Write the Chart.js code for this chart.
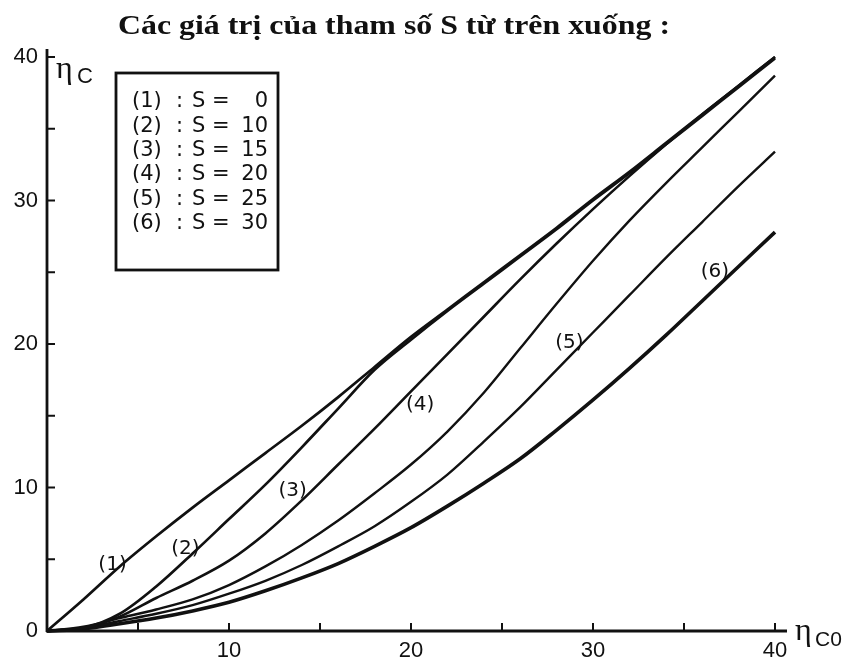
<!DOCTYPE html>
<html>
<head>
<meta charset="utf-8">
<title>eta_C theo eta_C0</title>
<script src="https://cdn.jsdelivr.net/npm/chart.js@4.4.0/dist/chart.umd.min.js"></script>
<style>
  html, body { margin: 0; padding: 0; background: #fff; }
  #wrap { width: 847px; height: 667px; }
</style>
</head>
<body>
<div id="wrap"><canvas id="chart" width="847" height="667"></canvas></div>
<script>
// Values (eta_C against eta_C0, one curve per S)
const etaC0 = [0, 2, 4, 6, 8, 10, 12, 14, 16, 18, 20, 22, 24, 26, 28, 30, 32, 34, 36, 38, 40];
const curveS0  = [0, 2.2, 4.5, 6.6, 8.6, 10.5, 12.4, 14.3, 16.3, 18.4, 20.5, 22.4, 24.3, 26.2, 28.1, 30.1, 32.0, 34.0, 36.0, 38.0, 40.0];
const curveS10 = [0, 0.2, 1.2, 3.1, 5.4, 7.8, 10.2, 12.8, 15.5, 18.2, 20.3, 22.3, 24.2, 26.1, 28.0, 30.0, 31.9, 33.9, 35.9, 37.9, 39.9];
const curveS15 = [0, 0.2, 1.0, 2.3, 3.5, 4.9, 6.8, 9.1, 11.6, 14.1, 16.7, 19.3, 21.9, 24.5, 27.0, 29.4, 31.7, 33.9, 36.0, 38.0, 40.0];
const curveS20 = [0, 0.3, 0.9, 1.5, 2.2, 3.2, 4.5, 6.0, 7.7, 9.6, 11.6, 13.9, 16.6, 19.7, 22.8, 25.8, 28.6, 31.2, 33.7, 36.2, 38.7];
const curveS25 = [0, 0.2, 0.7, 1.2, 1.8, 2.6, 3.5, 4.6, 5.9, 7.3, 9.0, 10.9, 13.2, 15.6, 18.2, 20.8, 23.4, 26.0, 28.5, 31.0, 33.4];
const curveS30 = [0, 0.15, 0.5, 0.9, 1.4, 2.0, 2.8, 3.7, 4.7, 5.9, 7.2, 8.7, 10.3, 12.0, 14.0, 16.1, 18.3, 20.6, 23.0, 25.4, 27.8];

const sValues = [0, 10, 15, 20, 25, 30];
const curveTags = ['(1)', '(2)', '(3)', '(4)', '(5)', '(6)'];
// where each "(n)" tag sits, in data units
const tagAt = [[3.6, 4.6], [7.6, 5.75], [13.5, 9.8], [20.5, 15.75], [28.7, 20.1], [36.7, 25.0]];
const xTickLabels = [10, 20, 30, 40];
const yTickLabels = [0, 10, 20, 30, 40];

const title = 'Các giá trị của tham số S từ trên xuống :';
const ink = '#111';

const series = [curveS0, curveS10, curveS15, curveS20, curveS25, curveS30];
const widths = [2.7, 2.7, 2.6, 2.4, 2.4, 3.6];

const datasets = series.map((vals, i) => ({
  label: curveTags[i] + ' : S = ' + sValues[i],
  data: etaC0.map((x, j) => ({ x: x, y: vals[j] })),
  borderColor: ink,
  borderWidth: widths[i],
  pointRadius: 0,
  fill: false,
  cubicInterpolationMode: 'monotone',
  clip: 4
}));

// axes, inward tick marks, legend box, tags and title drawn on top
const paper = {
  id: 'paper',
  afterDraw(chart) {
    const { ctx, chartArea: a, scales: { x, y } } = chart;
    const y0 = y.getPixelForValue(0);
    ctx.save();
    ctx.strokeStyle = ink;
    ctx.fillStyle = ink;

    // axis lines
    ctx.lineWidth = 2.8;
    ctx.beginPath();
    ctx.moveTo(a.left, y0 + 1);
    ctx.lineTo(a.left, a.top - 8);
    ctx.moveTo(a.left - 1, y0);
    ctx.lineTo(a.right + 12, y0);
    ctx.stroke();

    // tick marks pointing into the plot
    ctx.lineWidth = 2;
    ctx.beginPath();
    x.ticks.forEach(t => {
      if (t.value === 0) return;
      const px = x.getPixelForValue(t.value);
      ctx.moveTo(px, y0);
      ctx.lineTo(px, y0 - 8);
    });
    y.ticks.forEach(t => {
      if (t.value === 0) return;
      const py = y.getPixelForValue(t.value);
      ctx.moveTo(a.left, py);
      ctx.lineTo(a.left + 8, py);
    });
    ctx.stroke();

    // axis names
    ctx.textBaseline = 'alphabetic';
    ctx.textAlign = 'left';
    ctx.font = '32px "Liberation Serif"';
    ctx.fillText('η', a.left + 9, a.top + 21);
    ctx.font = '22px "Liberation Sans"';
    ctx.fillText('C', a.left + 30, a.top + 26);
    ctx.font = '32px "Liberation Serif"';
    ctx.fillText('η', a.right + 20, y0 + 9);
    ctx.font = '21px "Liberation Sans"';
    ctx.fillText('C0', a.right + 40, y0 + 15);

    // legend box
    ctx.lineWidth = 2.8;
    ctx.strokeRect(116, 73, 162, 197);
    ctx.font = '21px "DejaVu Sans"';
    ctx.textBaseline = 'middle';
    datasets.forEach((d, i) => {
      const ry = 102 + i * 24.3;
      ctx.textAlign = 'left';
      ctx.fillText(curveTags[i], 132, ry);
      ctx.fillText(':', 176, ry);
      ctx.fillText('S', 192, ry);
      ctx.fillText('=', 212, ry);
      ctx.textAlign = 'right';
      ctx.fillText(String(sValues[i]), 268, ry);
    });

    // curve tags
    ctx.font = '20px "DejaVu Sans"';
    ctx.textAlign = 'center';
    tagAt.forEach((p, i) => {
      ctx.fillText(curveTags[i], x.getPixelForValue(p[0]), y.getPixelForValue(p[1]));
    });

    // title, squeezed to the width it has in the scan
    ctx.font = 'bold 28px "Liberation Serif"';
    const w = ctx.measureText(title).width;
    ctx.translate(394, 27);
    ctx.scale(552 / w, 1);
    ctx.textAlign = 'center';
    ctx.fillText(title, 0, 0);
    ctx.restore();
  }
};

new Chart(document.getElementById('chart'), {
  type: 'line',
  data: { datasets: datasets },
  options: {
    responsive: false,
    animation: false,
    events: [],
    layout: { padding: { left: 0, right: 72, top: 57, bottom: 0 } },
    plugins: { legend: { display: false }, title: { display: false }, tooltip: { enabled: false } },
    scales: {
      x: {
        type: 'linear',
        min: 0,
        max: 40,
        grid: { display: false, drawTicks: false },
        border: { display: false },
        afterFit: s => { s.height = 36; },
        ticks: {
          stepSize: 5,
          padding: 7,
          color: ink,
          maxRotation: 0,
          autoSkip: false,
          font: { family: 'Liberation Sans', size: 22 },
          callback: v => xTickLabels.includes(v) ? String(v) : ''
        }
      },
      y: {
        min: 0,
        max: 40,
        grid: { display: false, drawTicks: false },
        border: { display: false },
        afterFit: s => { s.width = 47; },
        ticks: {
          stepSize: 5,
          padding: 9,
          color: ink,
          autoSkip: false,
          font: { family: 'Liberation Sans', size: 22 },
          callback: v => yTickLabels.includes(v) ? String(v) : ''
        }
      }
    }
  },
  plugins: [paper]
});
</script>
</body>
</html>
